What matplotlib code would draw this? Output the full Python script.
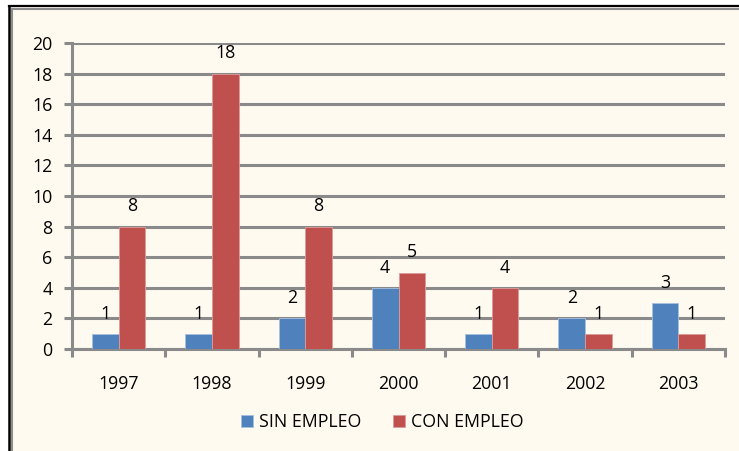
import numpy as np
import matplotlib.pyplot as plt
from matplotlib.patches import Rectangle
from matplotlib.lines import Line2D

years = ['1997', '1998', '1999', '2000', '2001', '2002', '2003']
sin_empleo = [1, 1, 2, 4, 1, 2, 3]
con_empleo = [8, 18, 8, 5, 4, 1, 1]
yticks = [0, 2, 4, 6, 8, 10, 12, 14, 16, 18, 20]

W, H = 739, 451
CREAM = '#FEFAF0'
BLUE = '#4F81BD'
RED = '#C0504D'
GRID = '#8A8A8A'
FS = 12.8

plt.rcParams['font.family'] = ['Open Sans', 'DejaVu Sans']

fig = plt.figure(figsize=(W / 100, H / 100), dpi=100, facecolor='white')

def fx(px):
    return px / W

def fy(py):
    return 1 - py / H

# cream background and the double border (top + left only)
fig.patches.append(Rectangle((fx(8), 0), 1 - fx(8), fy(5), transform=fig.transFigure,
                             facecolor=CREAM, edgecolor='none', zorder=-10))
fig.lines.append(Line2D([fx(9), 1], [fy(6), fy(6)], transform=fig.transFigure, color='black', lw=1.6, zorder=-5))
fig.lines.append(Line2D([fx(9), fx(9)], [0, fy(6)], transform=fig.transFigure, color='black', lw=1.8, zorder=-5))
fig.lines.append(Line2D([fx(11.5), 1], [fy(9), fy(9)], transform=fig.transFigure, color='#8C8C8C', lw=1.5, zorder=-5))
fig.lines.append(Line2D([fx(11.5), fx(11.5)], [0, fy(9)], transform=fig.transFigure, color='#8C8C8C', lw=1.5, zorder=-5))

ax = fig.add_axes([fx(72), fy(349), fx(725) - fx(72), fy(43) - fy(349)])
ax.set_facecolor(CREAM)

x = np.arange(len(years))
bw = 0.286
b1 = ax.bar(x - bw / 2, sin_empleo, bw, color=BLUE, edgecolor='#A7C0DE', linewidth=0.6,
            label='SIN EMPLEO', zorder=3)
b2 = ax.bar(x + bw / 2, con_empleo, bw, color=RED, edgecolor='#DC9C9A', linewidth=0.6,
            label='CON EMPLEO', zorder=3)

for bars in (b1, b2):
    for r in bars:
        ax.annotate(str(int(r.get_height())), (r.get_x() + r.get_width() / 2, r.get_height()),
                    xytext=(0, 8), textcoords='offset points', ha='center', va='bottom',
                    fontsize=FS, color='black')

ax.set_xlim(-0.5, len(years) - 0.5)
ax.set_ylim(0, 20)
ax.set_yticks(yticks)
ax.set_yticklabels([str(v) for v in yticks], fontsize=FS)
ax.yaxis.grid(True, color=GRID, lw=2.2, zorder=1)
ax.set_axisbelow(True)

ax.set_xticks(x)
ax.set_xticklabels(years, fontsize=FS)
ax.tick_params(axis='x', length=0, pad=19)
ax.set_xticks(np.arange(-0.5, len(years)), minor=True)
ax.tick_params(axis='x', which='minor', length=6, width=2.2, color=GRID)
ax.tick_params(axis='y', length=6, width=2.2, color=GRID, pad=8)

for s in ('top', 'right'):
    ax.spines[s].set_visible(False)
for s in ('left', 'bottom'):
    ax.spines[s].set_color(GRID)
    ax.spines[s].set_linewidth(2.2)

fig.legend(handles=[b1, b2], labels=['SIN EMPLEO', 'CON EMPLEO'], loc='center',
           bbox_to_anchor=(fx(382), fy(422)), ncol=2, frameon=False, fontsize=FS,
           handlelength=0.7, handleheight=0.7, handletextpad=0.3, columnspacing=1.8)

fig.savefig('out.png', dpi=100, facecolor='white')
